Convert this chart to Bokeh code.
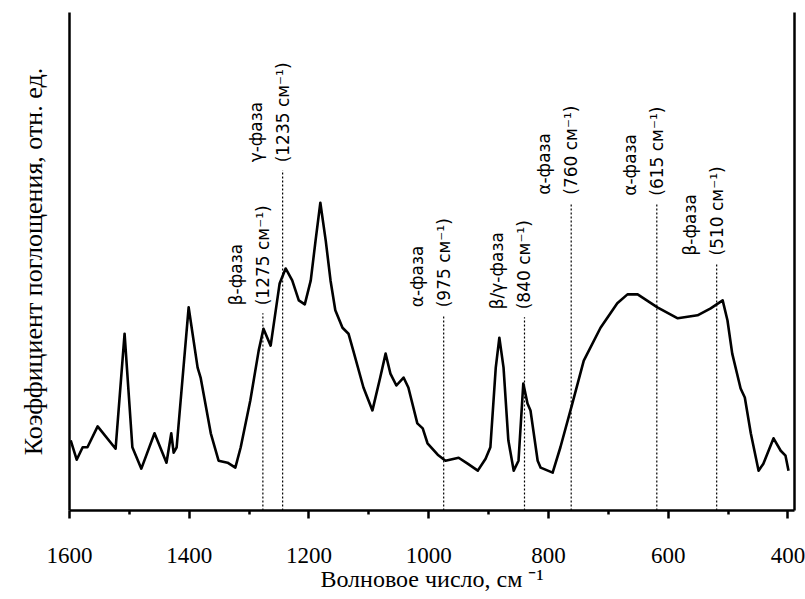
import math
from bokeh.plotting import figure
from bokeh.models import Range1d, LinearAxis, FixedTicker, ColumnDataSource
from bokeh.core.properties import value
from bokeh.embed import file_html
from bokeh.resources import INLINE

# Spectrum (wavenumber, cm-1 ; absorbance, arb. units)
wavenumber = [1598, 1588, 1578, 1570, 1553, 1523, 1508, 1495, 1480, 1458, 1438, 1430, 1426, 1421,
              1401, 1386, 1381, 1364, 1351, 1336, 1323, 1314, 1298, 1284, 1276, 1264, 1249, 1239,
              1228, 1217, 1207, 1197, 1189, 1181, 1172, 1164, 1156, 1144, 1134, 1126, 1109, 1094,
              1081, 1072, 1064, 1054, 1042, 1034, 1019, 1010, 1002, 985, 972, 950, 935, 918, 905,
              897, 888, 882, 875, 867, 858, 850, 842, 835, 830, 818, 813, 793, 780, 760, 741, 713,
              685, 668, 651, 618, 584, 551, 529, 509, 501, 493, 479, 472, 462, 449, 441, 424, 412,
              404, 399]
absorbance = [14.1, 10.2, 12.7, 12.7, 16.9, 12.4, 35.5, 12.7, 8.4, 15.5, 9.6, 15.5, 11.6, 12.7,
              40.8, 28.7, 26.7, 15.5, 10.0, 9.6, 8.6, 12.7, 22.1, 32.1, 36.5, 33.1, 45.6, 48.6,
              46.2, 42.2, 41.4, 46.2, 54.2, 61.8, 54.2, 46.2, 40.2, 36.7, 35.5, 32.1, 24.7, 20.1,
              26.7, 31.5, 27.5, 25.1, 26.7, 24.7, 17.5, 16.5, 13.5, 11.2, 10.0, 10.6, 9.4, 8.0, 10.4,
              12.7, 28.7, 34.7, 28.7, 14.1, 8.0, 10.0, 25.5, 21.5, 20.1, 10.0, 8.6, 7.6, 12.7, 21.5,
              30.1, 36.7, 41.6, 43.4, 43.4, 40.8, 38.6, 39.2, 40.6, 42.2, 38.2, 31.5, 24.5, 22.7,
              15.5, 8.0, 9.4, 14.5, 12.0, 11.0, 8.0]

# Phase markers
marker_x = [1277, 1244, 975, 840, 762, 619, 519]
marker_top = [39.6, 68.3, 39.2, 38.8, 61.8, 61.6, 49.6]
phase_names = ["β-фаза", "γ-фаза", "α-фаза", "β/γ-фаза", "α-фаза", "α-фаза", "β-фаза"]
phase_bands = ["(1275 см⁻¹)", "(1235 см⁻¹)", "(975 см⁻¹)", "(840 см⁻¹)",
               "(760 см⁻¹)", "(615 см⁻¹)", "(510 см⁻¹)"]
marker_bottom = [0] * len(marker_x)

x_ticks = [1600, 1400, 1200, 1000, 800, 600, 400]
x_minor = [1500, 1300, 1100, 900, 700, 500]
x_title = "Волновое число, см ⁻¹"
y_title = "Коэффициент поглощения, отн. ед."

SERIF = "Liberation Serif"

p = figure(width=805, height=599, output_backend="svg", toolbar_location=None,
           x_range=Range1d(1600, 389), y_range=Range1d(0, 100),
           min_border_left=69, min_border_right=11, min_border_top=12, min_border_bottom=89)
p.xgrid.visible = False
p.ygrid.visible = False
p.outline_line_color = None
p.background_fill_color = "white"
p.border_fill_color = "white"

xa = p.xaxis[0]
xa.ticker = FixedTicker(ticks=x_ticks, minor_ticks=x_minor)
xa.axis_line_width = 2.5
xa.axis_line_color = "black"
xa.major_tick_line_width = 2.5
xa.minor_tick_line_width = 2.5
xa.major_tick_out = 8
xa.major_tick_in = 0
xa.minor_tick_out = 4
xa.minor_tick_in = 0
xa.major_label_text_font = SERIF
xa.major_label_text_font_size = "23px"
xa.major_label_text_color = "black"
xa.major_label_standoff = 29
xa.axis_label = x_title
xa.axis_label_text_font = SERIF
xa.axis_label_text_font_size = "24px"
xa.axis_label_text_font_style = "normal"
xa.axis_label_text_color = "black"
xa.axis_label_standoff = 0

ya = p.yaxis[0]
ya.ticker = FixedTicker(ticks=[])
ya.axis_line_width = 2.5
ya.axis_line_color = "black"
ya.major_tick_line_color = None
ya.minor_tick_line_color = None
ya.major_label_standoff = 0
ya.axis_label = y_title
ya.axis_label_text_font = SERIF
ya.axis_label_text_font_size = "26px"
ya.axis_label_text_font_style = "normal"
ya.axis_label_text_color = "black"
ya.axis_label_standoff = 22

ra = LinearAxis(ticker=FixedTicker(ticks=[]), axis_line_width=2.5, axis_line_color="black",
                major_tick_line_color=None, minor_tick_line_color=None, major_label_standoff=0)
p.add_layout(ra, "right")

src = ColumnDataSource(dict(x=marker_x, top=marker_top, bottom=marker_bottom,
                            name=phase_names, band=phase_bands))
p.segment(x0="x", y0="bottom", x1="x", y1="top", source=src, line_color="black",
          line_width=1.2, line_dash="2 2")

p.line(wavenumber, absorbance, line_color="black", line_width=2.6, line_join="round")

p.text(x="x", y="top", text="name", source=src, angle=math.pi / 2, x_offset=-27, y_offset=-8,
       text_align="left", text_baseline="middle", text_font=value("DejaVu Sans"),
       text_font_size="17px", text_color="black")
p.text(x="x", y="top", text="band", source=src, angle=math.pi / 2, x_offset=0, y_offset=-8,
       text_align="left", text_baseline="middle", text_font=value("DejaVu Sans"),
       text_font_size="17px", text_color="black")

open("out.html", "w").write(file_html(p, INLINE))
